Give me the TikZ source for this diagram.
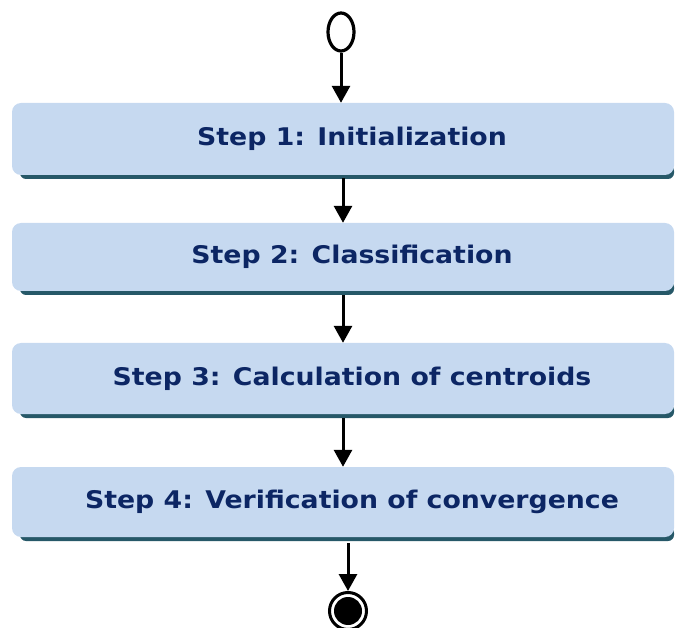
\documentclass[tikz,border=0pt]{standalone}
\usepackage{fontspec}
\newfontfamily\boxfont[FakeStretch=1.1]{DejaVu Sans}
\usetikzlibrary{arrows.meta,shapes.geometric}
\definecolor{boxfill}{RGB}{198,217,240}
\definecolor{boxshade}{RGB}{38,88,104}
\definecolor{boxtext}{RGB}{12,38,100}
\newcommand{\stepbox}[4]{%
  \fill[boxshade, rounded corners=6pt] (20,{#3-10}) rectangle (674,{#3+4});
  \fill[boxfill, rounded corners=9pt] (12,#2) rectangle (674,#3);
  \node[steptext, minimum height={(#3-#2)*1pt}] (#1) at (343,{(#2+#3)/2}) {\hspace*{18pt}#4};
}
\begin{document}
\begin{tikzpicture}[x=1pt,y=-1pt,
  steptext/.style={inner sep=0pt, minimum width=662pt, text=boxtext,
    font=\boxfont\bfseries\fontsize{24.3}{28}\selectfont},
  flow/.style={line width=3pt, -{Triangle[length=17pt,width=18pt]}},
  startnode/.style={ellipse, draw, line width=3.2pt, minimum width=26pt, minimum height=38pt, inner sep=0pt}]
\useasboundingbox (0,0) rectangle (675,628);
\node[startnode] (start) at (341,32) {};
\stepbox{s1}{103}{175}{Step 1: Initialization}
\stepbox{s2}{223}{291}{Step 2: Classification}
\stepbox{s3}{343}{414}{Step 3: Calculation of centroids}
\stepbox{s4}{467}{537}{Step 4: Verification of convergence}
\node[circle, draw=black, line width=3pt, minimum size=37pt, inner sep=0pt] (end) at (348,611) {};
\fill[black] (end.center) circle (14pt);
\draw[flow] (start.south) -- (start.south |- s1.north);
\draw[flow] ([yshift=-3pt]s1.south) -- (s2.north);
\draw[flow] ([yshift=-4pt]s2.south) -- (s3.north);
\draw[flow] ([yshift=-4pt]s3.south) -- (s4.north);
\draw[flow] ([xshift=5pt,yshift=-6pt]s4.south) -- (end.north);
\end{tikzpicture}
\end{document}
